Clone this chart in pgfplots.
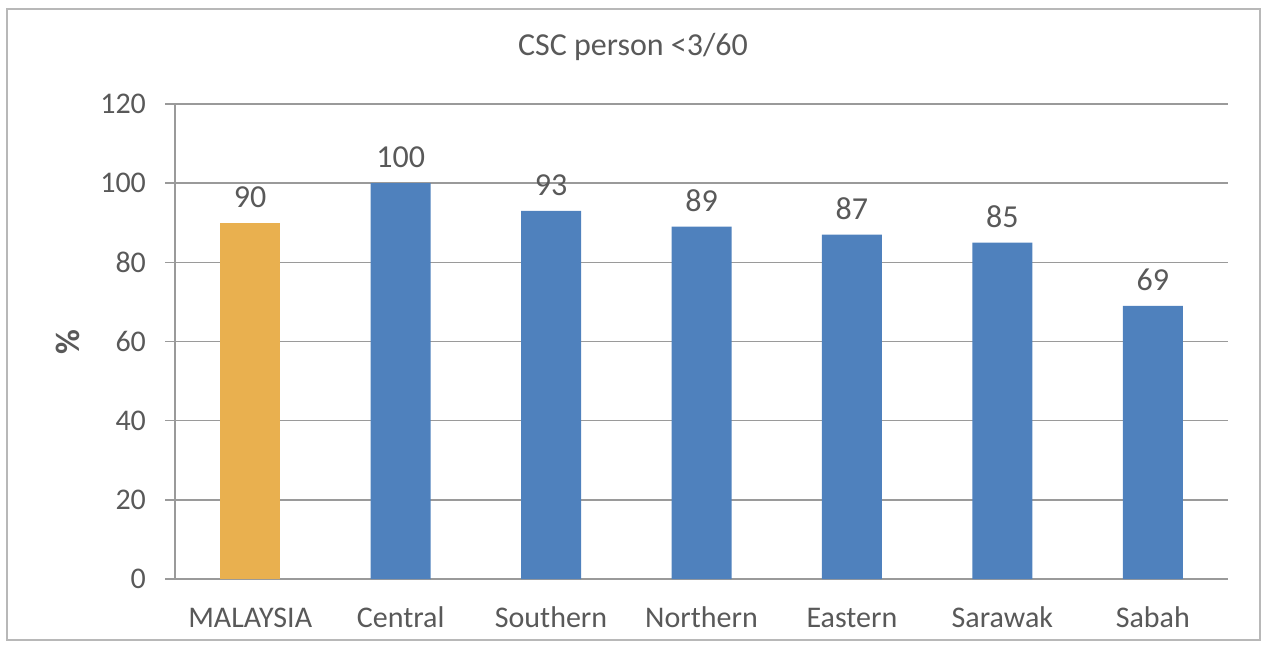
\documentclass[border=0pt]{standalone}
\usepackage{fontspec}
\setmainfont{Carlito}
\usepackage{pgfplots}
\pgfplotsset{compat=1.18}
\definecolor{barblue}{HTML}{4F81BD}
\definecolor{bargold}{HTML}{E9B04F}
\definecolor{txt}{HTML}{595959}
\definecolor{gridc}{HTML}{9A9A9A}
\begin{document}
\begin{tikzpicture}[x=1pt,y=1pt]
\useasboundingbox (0,0) rectangle (631.5,324);
\draw[draw=gridc!70, line width=0.8pt] (3.5,4) rectangle (630,319.5);
\node[text=txt, font=\fontsize{16}{18}\selectfont] at (316.5,300.5) {CSC person <3/60};
\node[text=txt, rotate=90, font=\fontsize{17}{19}\selectfont\bfseries] at (34,153) {\%};
\begin{axis}[
  at={(87.5pt,34.5pt)}, anchor=south west,
  scale only axis, width=526.5pt, height=237.5pt,
  xmin=-0.5, xmax=6.5, ymin=0, ymax=120,
  ytick={0,20,...,120},
  xtick={0,...,6},
  xticklabels={MALAYSIA,Central,Southern,Northern,Eastern,Sarawak,Sabah},
  /pgf/number format/assume math mode=true,
  ymajorgrids, grid style={gridc, line width=0.7pt},
  axis x line*=bottom, axis y line*=left,
  axis line style={gridc, line width=0.7pt},
  x axis line style={-}, y axis line style={-},
  major tick length=5pt,
  xtick style={draw=none},
  ytick style={gridc, line width=0.7pt},
  tick align=outside,
  ticklabel style={text=txt, font=\fontsize{15}{17}\selectfont},
  yticklabel style={xshift=-6pt},
  xticklabel style={text height=10.5pt, text depth=3pt, yshift=-5pt},
  ybar, bar width=30pt, bar shift=0pt,
  nodes near coords,
  nodes near coords style={text=txt, font=\fontsize{16}{18}\selectfont, yshift=4pt},
]
\addplot[fill=bargold, draw=none] coordinates {(0,90)};
\addplot[fill=barblue, draw=none] coordinates {(1,100) (2,93) (3,89) (4,87) (5,85) (6,69)};
\end{axis}
\end{tikzpicture}
\end{document}
